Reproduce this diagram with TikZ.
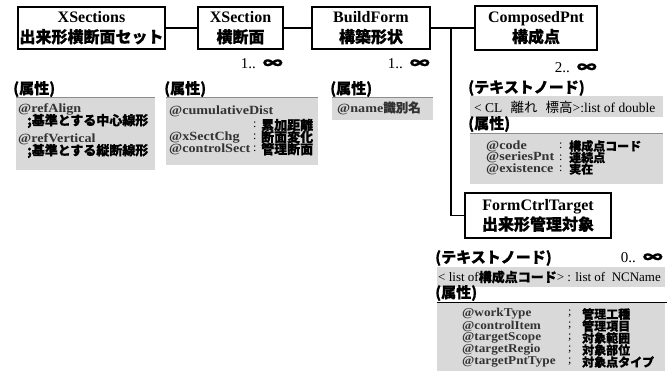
\documentclass[tikz,border=0pt]{standalone}
\usepackage{fontspec}
\usepackage{graphicx}
\setmainfont{Liberation Serif}
\newfontfamily\wideserif{Liberation Serif}[FakeStretch=1.13]
\newfontfamily\midserif{Liberation Serif}[FakeStretch=1.1]
\newfontfamily\jp{Noto Sans CJK JP}[BoldFeatures={FakeBold=0.6}]
\newcommand\jtext[1]{{\jp\bfseries #1}}
\newcommand\jinf{{\jp\fontseries{b}\selectfont\fontsize{16}{16}\selectfont\scalebox{1.25}[1]{∞}}}
\tikzset{
  cls/.style={draw, line width=1.4pt, fill=white, inner sep=0pt, align=center,
    font=\fontsize{16}{20}\selectfont\bfseries},
  link/.style={line width=1.1pt},
  mult/.style={anchor=east, inner sep=0pt, font=\fontsize{15}{15}\selectfont},
  head/.style={anchor=west, inner sep=0pt, font=\fontsize{15}{15}\selectfont\jp\bfseries},
  attr/.style={anchor=west, inner sep=0pt, font=\fontsize{12.5}{12}\selectfont\wideserif\bfseries, text=black!80},
  attrs/.style={anchor=west, inner sep=0pt, font=\fontsize{12}{12}\selectfont\midserif\bfseries, text=black!80},
  jval/.style={anchor=west, inner sep=0pt, font=\fontsize{13}{12}\selectfont\jp\bfseries},
  jvals/.style={anchor=west, inner sep=0pt, font=\fontsize{12}{12}\selectfont\jp\bfseries},
  sepc/.style={anchor=west, inner sep=0pt, font=\fontsize{12}{12}\selectfont},
  plain/.style={anchor=west, inner sep=0pt, font=\fontsize{13.5}{13}\selectfont},
  shade/.style={fill=black!15},
  toprule/.style={draw=black!45, line width=0.8pt},
}
\begin{document}
\begin{tikzpicture}[x=1pt,y=-1pt]
\useasboundingbox (0,0) rectangle (667,381);

% class boxes
\node[cls, minimum width=147pt, minimum height=42pt] (xs) at (91.5,28)
  {XSections\\{\jp 出来形横断面セット}};
\node[cls, minimum width=85pt, minimum height=42pt] (xsec) at (240.5,28)
  {XSection\\{\jp 横断面}};
\node[cls, minimum width=118pt, minimum height=42pt] (bf) at (371,28)
  {BuildForm\\{\jp 構築形状}};
\node[cls, minimum width=122pt, minimum height=44pt] (cp) at (536,28)
  {ComposedPnt\\{\jp 構成点}};
\node[cls, line width=2.2pt, minimum width=146pt, minimum height=45pt] (fct) at (538,215.5)
  {FormCtrlTarget\\{\jp 出来形管理対象}};

% connectors
\draw[link] (xs.east) -- (xsec.west);
\draw[link] (xsec.east) -- (bf.west);
\draw[link] (bf.east) -- (cp.west);
\coordinate (br) at (451,28);
\draw[link] (br) |- (fct.west);

% multiplicities
\node[mult] (m1) at (283,64) {1..\hspace{7pt}\jinf};
\node[mult] (m2) at (430,64) {1..\hspace{7pt}\jinf};
\node[mult] (m3) at (597,68) {2..\hspace{7pt}\jinf};
\node[mult] (m4) at (663,258) {0..\hspace{7pt}\jinf};

% XSections attributes
\node[head] (h1) at (13,89) {(属性)};
\fill[shade] (16,97) rectangle (155,170);
\draw[toprule] (16,97) -- (155,97);
\node[attr] (a11) at (18,109) {@refAlign};
\node[jval] (a12) at (27,121) {;基準とする中心線形};
\node[attr] (a13) at (18,139) {@refVertical};
\node[jval] (a14) at (27,151) {;基準とする縦断線形};

% XSection attributes
\node[head] (h2) at (164,89) {(属性)};
\fill[shade] (166,97) rectangle (318,165);
\draw[toprule] (166,97) -- (318,97);
\node[attr] (a21) at (169,111) {@cumulativeDist};
\node[sepc] (c21) at (253,125) {:};
\node[jval] (v21) at (261,125) {累加距離};
\node[attr] (a22) at (169,138) {@xSectChg};
\node[sepc] (c22) at (253,137) {:};
\node[jval] (v22) at (261,137) {断面変化};
\node[attr] (a23) at (169,149) {@controlSect};
\node[sepc] (c23) at (253,149) {:};
\node[jval] (v23) at (261,149) {管理断面};

% BuildForm attributes
\node[head] (h3) at (330,89) {(属性)};
\fill[shade] (332,97) rectangle (433,120);
\draw[toprule] (332,97) -- (433,97);
\node[attr] (a31) at (337,108) {@name\jtext{識別名}};

% ComposedPnt text node and attributes
\node[head] (h4) at (468,88) {(テキストノード)};
\fill[shade] (470,96) rectangle (663,117);
\node[plain] (t4) at (474,107) {< CL\hspace{0.6em}{\jp 離れ}\hspace{0.6em}{\jp 標高}>:list of double};
\node[head] (h5) at (468,124) {(属性)};
\fill[shade] (470,133) rectangle (663,184);
\draw[toprule] (470,133) -- (663,133);
\node[attr] (a41) at (486,146) {@code};
\node[sepc] (c41) at (559,146) {:};
\node[jvals] (v41) at (569,146) {構成点コード};
\node[attr] (a42) at (486,157.5) {@seriesPnt};
\node[sepc] (c42) at (559,157.5) {:};
\node[jvals] (v42) at (569,157.5) {連続点};
\node[attr] (a43) at (486,169) {@existence};
\node[sepc] (c43) at (559,169) {:};
\node[jvals] (v43) at (569,169) {実在};

% FormCtrlTarget text node and attributes
\node[head] (h6) at (435,258) {(テキストノード)};
\fill[shade] (437,267) rectangle (665,287);
\node[plain, font=\fontsize{13}{13}\selectfont] (t6) at (438,277) {< list of\jtext{構成点コード}> : list of\ \ NCName};
\node[head] (h7) at (435,293) {(属性)};
\fill[shade] (437,302) rectangle (665,371);
\draw[line width=1pt] (437,302) -- (667,302);
\node[attrs] (a51) at (462,314) {@workType};
\node[sepc] (c51) at (568,314) {;};
\node[jvals] (v51) at (582,314) {管理工種};
\node[attrs] (a52) at (462,326) {@controlItem};
\node[sepc] (c52) at (568,326) {;};
\node[jvals] (v52) at (582,326) {管理項目};
\node[attrs] (a53) at (462,338) {@targetScope};
\node[sepc] (c53) at (568,338) {;};
\node[jvals] (v53) at (582,338) {対象範囲};
\node[attrs] (a54) at (462,350) {@targetRegio};
\node[sepc] (c54) at (568,350) {;};
\node[jvals] (v54) at (582,350) {対象部位};
\node[attrs] (a55) at (462,362) {@targetPntType};
\node[sepc] (c55) at (568,362) {;};
\node[jvals] (v55) at (582,362) {対象点タイプ};
\end{tikzpicture}
\end{document}
